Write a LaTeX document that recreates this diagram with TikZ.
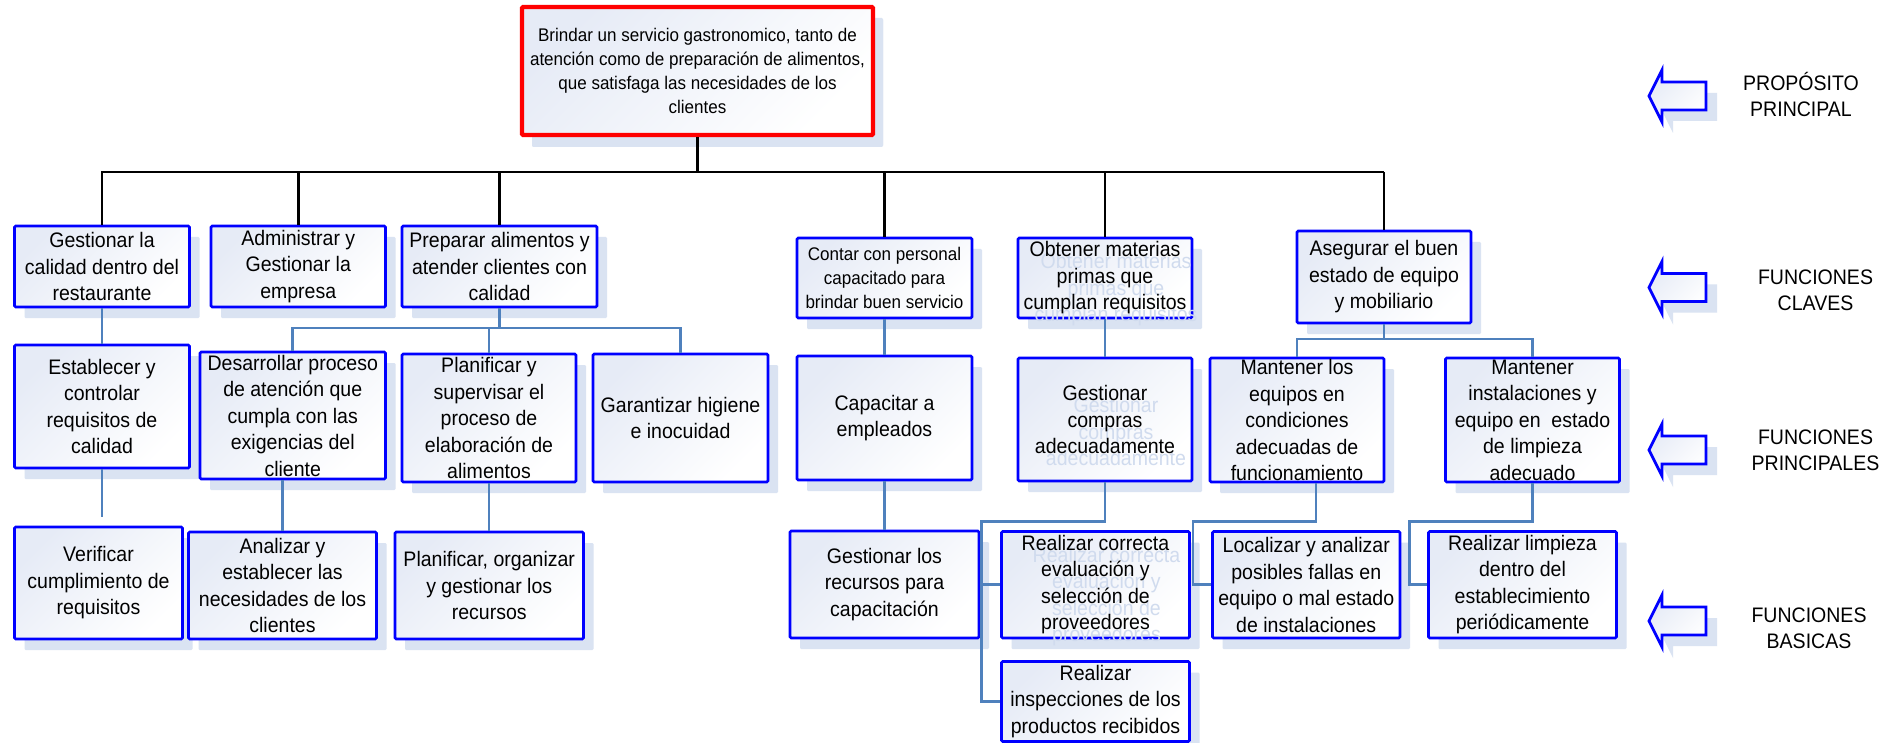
\documentclass[tikz,border=0pt]{standalone}
\usepackage{fontspec}
\setmainfont{Liberation Sans}[FakeStretch=0.93]
\usetikzlibrary{shadows}

\definecolor{fnblue}{RGB}{0,0,255}
\definecolor{fnred}{RGB}{255,0,0}
\definecolor{linkblue}{RGB}{79,129,189}
\definecolor{shadowc}{RGB}{218,227,242}
\definecolor{ghostc}{RGB}{208,219,238}
\definecolor{boxtint}{RGB}{230,235,246}

\newcommand\fnboxfont{\fontsize{21}{26.5}\selectfont}
\newcommand\fnsmallfont{\fontsize{18.3}{24}\selectfont}
\newcommand\fnlabelfont{\fontsize{21}{26}\selectfont}

\tikzset{
  boxshape/.style={draw=fnblue, line width=2.6pt, rounded corners=1.2pt, inner sep=0pt,
    top color=boxtint, bottom color=white, shading angle=45,
    drop shadow={shadow xshift=10pt, shadow yshift=-11pt, fill=shadowc, opacity=1}},
  boxtext/.style={align=center, inner sep=0pt, font=\fnboxfont, text=black},
  ghosttext/.style={boxtext, text=ghostc},
  labeltext/.style={align=center, inner sep=0pt, font=\fnlabelfont},
  trunk/.style={draw=black, line width=2.8pt},
  link/.style={draw=linkblue, line width=2.8pt},
  levelarrow/.style={draw=fnblue, line width=2.8pt, line join=miter,
    top color=boxtint, bottom color=white, shading angle=45},
}

% box from corner (x1,y1) to (x2,y2) with centred text
\newcommand\unitbox[7][]{%
  \pgfmathsetmacro\ubw{#5-#3}%
  \pgfmathsetmacro\ubh{#6-#4}%
  \pgfmathsetmacro\ubx{(#3+#5)/2}%
  \pgfmathsetmacro\uby{(#4+#6)/2}%
  \node[boxshape, minimum width=\ubw pt, minimum height=\ubh pt] (#2) at (\ubx,\uby) {};%
  \node[boxtext,#1] (#2-t) at (#2.center) {#7};%
}
% same, with the faint shadow copy of the text
\newcommand\unitboxg[7][]{%
  \pgfmathsetmacro\ubw{#5-#3}%
  \pgfmathsetmacro\ubh{#6-#4}%
  \pgfmathsetmacro\ubx{(#3+#5)/2}%
  \pgfmathsetmacro\uby{(#4+#6)/2}%
  \node[boxshape, minimum width=\ubw pt, minimum height=\ubh pt] (#2) at (\ubx,\uby) {};%
  \node[ghosttext,#1] (#2-g) at ([shift={(11,12)}]#2.center) {#7};%
  \node[boxtext,#1] (#2-t) at (#2.center) {#7};%
}
% hollow left-pointing arrow centred at height #1
\newcommand\levelmark[1]{%
  \begin{scope}[shift={(0,#1)}]
    \fill[shadowc] (1660,11) -- (1673,-15) -- (1673,-3) -- (1717,-3) -- (1717,25)
      -- (1673,25) -- (1673,37) -- cycle;
    \path[levelarrow] (1649,0) -- (1662,-26) -- (1662,-14) -- (1706,-14) -- (1706,14)
      -- (1662,14) -- (1662,26) -- cycle;
  \end{scope}%
}

\begin{document}
\begin{tikzpicture}[x=1pt,y=-1pt]
\useasboundingbox (0,0) rectangle (1900,743);
\fill[white] (0,0) rectangle (1900,743);

% main purpose
\node[boxshape, draw=fnred, line width=4.2pt, minimum width=351pt, minimum height=128pt,
      drop shadow={shadow xshift=10pt, shadow yshift=-12pt, fill=shadowc, opacity=1}]
      (top) at (697.5,71) {};
\node[boxtext, font=\fnsmallfont] (top-t) at (top.center)
  {Brindar un servicio gastronomico, tanto de\\atención como de preparación de alimentos,\\que satisfaga las necesidades de los\\clientes};

% key functions
\unitbox{b1}{14.5}{226}{189.5}{307}{Gestionar la\\calidad dentro del\\restaurante}
\unitbox{b2}{211}{226}{385.5}{307}{Administrar y\\Gestionar la\\empresa}
\unitbox{b3}{402}{226}{597}{307}{Preparar alimentos y\\atender clientes con\\calidad}
\unitbox[font=\fnsmallfont]{b4}{797}{238}{972}{318}{Contar con personal\\capacitado para\\brindar buen servicio}
\unitboxg{b5}{1018}{238}{1192}{318}{Obtener materias\\primas que\\cumplan requisitos}
\unitbox{b6}{1297}{231}{1471}{323}{Asegurar el buen\\estado de equipo\\y mobiliario}

% main functions
\unitbox{est}{14.5}{345}{189.5}{468}{Establecer y\\controlar\\requisitos de\\calidad}
\unitbox{des}{200}{352}{385.5}{479}{Desarrollar proceso\\de atención que\\cumpla con las\\exigencias del\\cliente}
\unitbox{pla}{402}{354}{576}{482}{Planificar y\\supervisar el\\proceso de\\elaboración de\\alimentos}
\unitbox{gar}{593}{354}{768}{482}{Garantizar higiene\\e inocuidad}
\unitbox{cap}{797}{356}{972}{480}{Capacitar a\\empleados}
\unitboxg{gco}{1018}{358}{1192}{481}{Gestionar\\compras\\adecuadamente}
\unitbox{mlo}{1210}{358}{1384}{482}{Mantener los\\equipos en\\condiciones\\adecuadas de\\funcionamiento}
\unitbox{min}{1445.5}{358}{1619.5}{482}{Mantener\\instalaciones y\\equipo en~ estado\\de limpieza\\adecuado}

% basic functions
\unitbox{ver}{14.5}{527}{182.5}{639}{Verificar\\cumplimiento de\\requisitos}
\unitbox{ana}{188.5}{532}{376.5}{639}{Analizar y\\establecer las\\necesidades de los\\clientes}
\unitbox{plo}{395}{532}{583.5}{639}{Planificar, organizar\\y gestionar los\\recursos}
\unitbox{ges}{790}{531}{979}{638}{Gestionar los\\recursos para\\capacitación}
\unitboxg{rco}{1001.5}{531.5}{1189.5}{638}{Realizar correcta\\evaluación y\\selección de\\proveedores}
\unitbox{rin}{1001.5}{661.5}{1189.5}{741.5}{Realizar\\inspecciones de los\\productos recibidos}
\unitbox{loc}{1212.5}{531.5}{1400}{638}{Localizar y analizar\\posibles fallas en\\equipo o mal estado\\de instalaciones}
\unitbox{rli}{1428.5}{531.5}{1616.5}{638}{Realizar limpieza\\dentro del\\establecimiento\\periódicamente}

% black tree from the main purpose
\coordinate (bar) at (697.5,172);
\coordinate (barmid) at (1198,172);
\draw[trunk] (top.south) -- (bar);
\draw[trunk, line cap=rect] (b1.north |- bar) -- (barmid);
\draw[trunk, line width=2pt] (barmid) -- (b6.north |- bar);
\foreach \n in {b1,b2,b3,b4} \draw[trunk] (\n.north |- bar) -- (\n.north);
\draw[trunk, line width=2.3pt] (b5.north |- bar) -- (b5.north);
\draw[trunk, line width=2pt] (b6.north |- bar) -- (b6.north);

% blue links
\draw[link] (b1.south) -- (est.north);
\coordinate (estend) at (102,517);
\draw[link] (est.south) -- (estend);

\coordinate (b3bus) at (499.5,328);
\draw[link] (b3.south) -- (b3bus);
\draw[link] (des.north) |- (b3bus) -| (gar.north);
\draw[link] (pla.north) -- (pla.north |- b3bus);
\draw[link] (des.south -| ana.north) -- (ana.north);
\draw[link] (pla.south) -- (pla.south |- plo.north);

\draw[link] (b4.south) -- (cap.north);
\draw[link] (cap.south) -- (ges.north);

\draw[link] (b5.south) -- (gco.north);
\coordinate (gcobus) at (981.6,521.7);
\draw[link] (gco.south) |- (gcobus) |- (rin.west);
\draw[link] (gcobus |- rco.west) -- (rco.west);

\coordinate (b6bus) at (1384,339);
\draw[link] (b6.south) -- (b6bus);
\draw[link] (mlo.north) |- (b6bus) -| (min.north);
\coordinate (mlodrop) at (1316,521.7);
\coordinate (locbus) at (1193,521.7);
\draw[link] (mlo.south -| mlodrop) -- (mlodrop) -- (locbus) |- (loc.west);
\coordinate (rlibus) at (1409.8,521.7);
\draw[link] (min.south) |- (rlibus) |- (rli.west);

% level markers
\levelmark{96}
\levelmark{287.5}
\levelmark{450}
\levelmark{621}
\node[labeltext] (lab1) at (1801,94.5) {PROPÓSITO\\PRINCIPAL};
\node[labeltext] (lab2) at (1815.5,290) {FUNCIONES\\CLAVES};
\node[labeltext] (lab3) at (1815.5,450) {FUNCIONES\\PRINCIPALES};
\node[labeltext] (lab4) at (1809,628.5) {FUNCIONES\\BASICAS};
\end{tikzpicture}
\end{document}
